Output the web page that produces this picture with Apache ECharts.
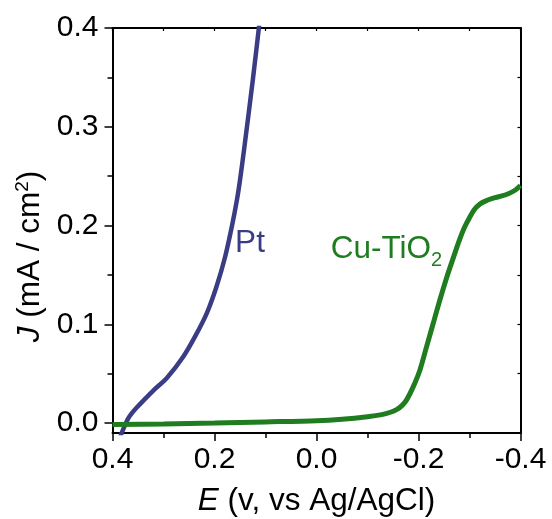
<!DOCTYPE html>
<html>
<head>
<meta charset="utf-8">
<script src="https://cdn.jsdelivr.net/npm/echarts@6/dist/echarts.min.js"></script>
<style>html,body{margin:0;padding:0;background:#fff;}#c{width:552px;height:519px;}</style>
</head>
<body>
<div id="c"></div>
<script>
// Data (E in V vs Ag/AgCl, J in mA/cm^2)
var ptE = [0.385, 0.378, 0.370, 0.362, 0.352, 0.34, 0.32, 0.293, 0.261, 0.238, 0.215, 0.196, 0.179, 0.166, 0.156, 0.150, 0.142, 0.1245, 0.113, 0.108];
var ptJ = [-0.014, -0.005, 0.004, 0.010, 0.016, 0.0225, 0.033, 0.046, 0.0675, 0.0878, 0.1114, 0.1383, 0.1687, 0.199, 0.226, 0.246, 0.277, 0.349, 0.4, 0.42];
var cuE = [0.4, 0.3, 0.2, 0.1, 0.0, -0.05, -0.1, -0.128, -0.145, -0.157, -0.168, -0.177, -0.190, -0.203, -0.216, -0.229, -0.242, -0.255, -0.268, -0.28, -0.29, -0.30, -0.31, -0.32, -0.33, -0.345, -0.36, -0.375, -0.39, -0.4];
var cuJ = [-0.0015, -0.0008, 0.0, 0.0012, 0.0025, 0.004, 0.0065, 0.0086, 0.011, 0.0137, 0.018, 0.0238, 0.0372, 0.0541, 0.0777, 0.1013, 0.1249, 0.147, 0.167, 0.185, 0.198, 0.208, 0.2165, 0.2215, 0.2245, 0.2275, 0.2295, 0.232, 0.236, 0.2405];
var yTicks = [0, 0.1, 0.2, 0.3, 0.4];
var yMinorTicks = [0.05, 0.15, 0.25, 0.35];
var yRightTicks = [0.05, 0.1, 0.15, 0.2, 0.25, 0.3, 0.35];
var ptLabelPos = [0.1304, 0.1825];
var cuLabelPos = [-0.137, 0.1760];

function zip(a, b) { return a.map(function (v, i) { return [v, b[i]]; }); }

var FONT = 'Liberation Sans, Arial, sans-serif';
var PT_COLOR = '#3a3d84';
var CU_COLOR = '#1f7c1f';
var FS = 30;
var NFS = 31.5;

var chart = echarts.init(document.getElementById('c'));
chart.setOption({
  backgroundColor: '#fff',
  animation: false,
  grid: { left: 112.5, right: 31.5, top: 28, bottom: 86, containLabel: false, outerBoundsMode: 'none' },
  xAxis: [
    {
      type: 'value', min: -0.4, max: 0.4, interval: 0.2, inverse: true, position: 'bottom',
      axisLine: { show: true, onZero: false, lineStyle: { color: '#000', width: 2 } },
      axisTick: { show: true, inside: false, length: 8, lineStyle: { color: '#000', width: 1.5 } },
      minorTick: { show: true, splitNumber: 2, length: 5, lineStyle: { color: '#000', width: 1.5 } },
      splitLine: { show: false },
      axisLabel: {
        fontSize: FS, fontFamily: FONT, color: '#000', margin: 12,
        formatter: function (v) { return (Math.abs(v) < 1e-9 ? 0 : v).toFixed(1); }
      },
      name: '{i|E} (v, vs Ag/AgCl)', nameLocation: 'middle', nameGap: 52,
      nameTextStyle: {
        fontSize: NFS, fontFamily: FONT, color: '#000',
        rich: { i: { fontSize: NFS, fontFamily: FONT, fontStyle: 'italic', color: '#000' } }
      }
    },
    {
      type: 'value', min: -0.4, max: 0.4, interval: 0.1, inverse: true, position: 'top',
      axisLine: { show: true, onZero: false, lineStyle: { color: '#000', width: 2 } },
      axisTick: { show: true, inside: true, length: 3, lineStyle: { color: '#000', width: 1.2 } },
      axisLabel: { show: false }, splitLine: { show: false }
    }
  ],
  yAxis: [
    {
      type: 'value', min: -0.01, max: 0.4, position: 'left',
      axisLine: { show: true, onZero: false, lineStyle: { color: '#000', width: 2 } },
      axisTick: { show: true, inside: false, length: 8, customValues: yTicks, lineStyle: { color: '#000', width: 1.5 } },
      splitLine: { show: false },
      axisLabel: {
        fontSize: FS, fontFamily: FONT, color: '#000', margin: 14, customValues: yTicks,
        formatter: function (v) { return v.toFixed(1); }
      },
      name: '{i|J} (mA / cm{sup|2})', nameLocation: 'middle', nameGap: 59,
      nameTextStyle: {
        fontSize: NFS, fontFamily: FONT, color: '#000', padding: [0, 52, 0, 0],
        rich: {
          i: { fontSize: NFS, fontFamily: FONT, fontStyle: 'italic', color: '#000' },
          sup: { fontSize: 19, fontFamily: FONT, color: '#000', verticalAlign: 'top', padding: [0, 0, 14, 0] }
        }
      }
    },
    {
      type: 'value', min: -0.01, max: 0.4, position: 'left',
      axisLine: { show: false, onZero: false },
      axisTick: { show: true, inside: false, length: 5, customValues: yMinorTicks, lineStyle: { color: '#000', width: 1.5 } },
      axisLabel: { show: false }, splitLine: { show: false }
    },
    {
      type: 'value', min: -0.01, max: 0.4, position: 'right',
      axisLine: { show: true, onZero: false, lineStyle: { color: '#000', width: 2 } },
      axisTick: { show: true, inside: true, length: 3, customValues: yRightTicks, lineStyle: { color: '#000', width: 1.2 } },
      axisLabel: { show: false }, splitLine: { show: false }
    }
  ],
  series: [
    {
      type: 'line', name: 'Pt', data: zip(ptE, ptJ), xAxisIndex: 0, yAxisIndex: 0,
      showSymbol: false, symbol: 'none', smooth: 0.3, clip: true,
      lineStyle: { color: PT_COLOR, width: 4.5 },
      markPoint: {
        symbol: 'circle', symbolSize: 0, silent: true,
        data: [{ coord: ptLabelPos, value: 'Pt' }],
        label: { show: true, position: 'inside', formatter: 'Pt', fontSize: NFS, fontFamily: FONT, color: PT_COLOR }
      }
    },
    {
      type: 'line', name: 'Cu-TiO2', data: zip(cuE, cuJ), xAxisIndex: 0, yAxisIndex: 0,
      showSymbol: false, symbol: 'none', smooth: 0.3, clip: true,
      lineStyle: { color: CU_COLOR, width: 5 },
      markPoint: {
        symbol: 'circle', symbolSize: 0, silent: true,
        data: [{ coord: cuLabelPos, value: 'Cu-TiO2' }],
        label: {
          show: true, position: 'inside', formatter: 'Cu-TiO{sub|2}', fontSize: NFS, fontFamily: FONT, color: CU_COLOR,
          rich: { sub: { fontSize: 20, fontFamily: FONT, color: CU_COLOR, padding: [22, 0, 0, 0] } }
        }
      }
    }
  ]
});
</script>
</body>
</html>
